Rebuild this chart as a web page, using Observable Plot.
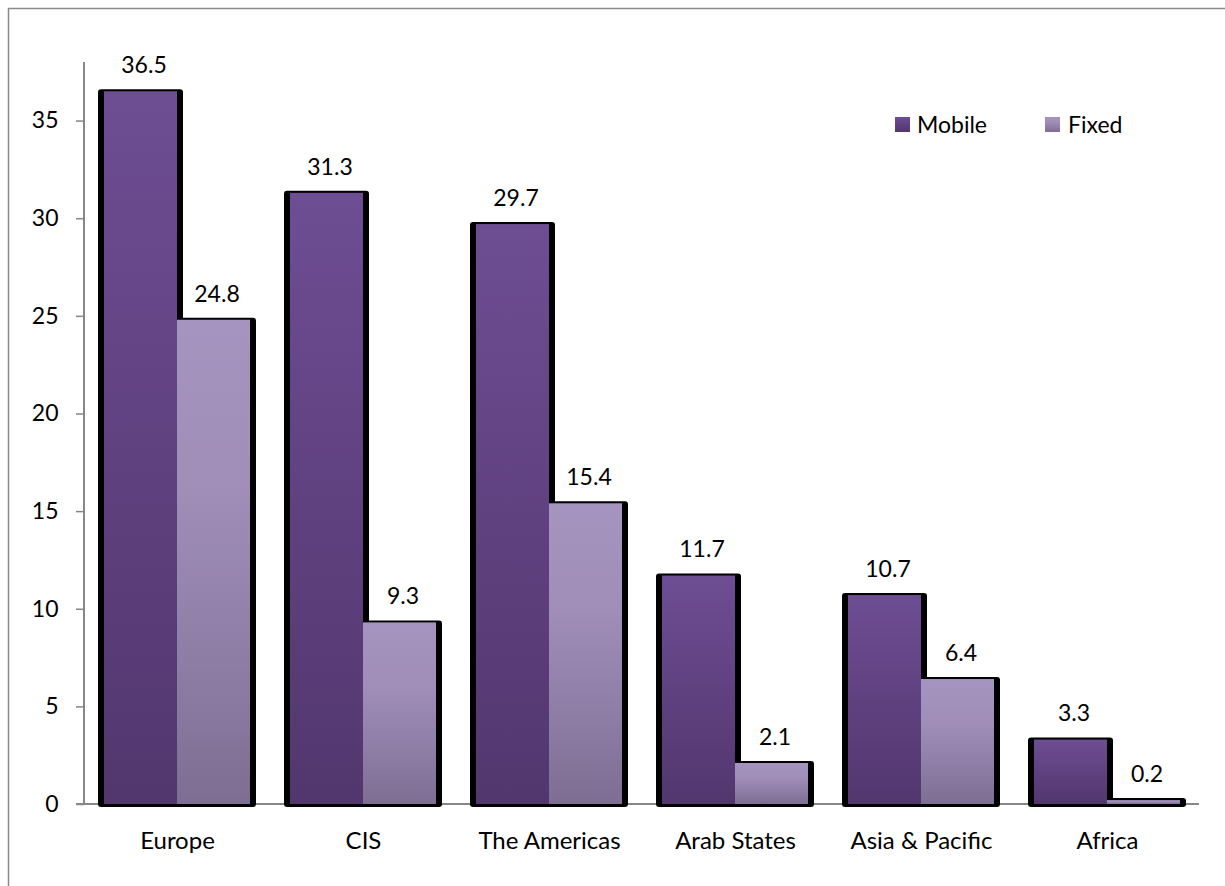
<!DOCTYPE html>
<html>
<head>
<meta charset="utf-8">
<script src="https://cdn.jsdelivr.net/npm/d3@7"></script>
<script src="https://cdn.jsdelivr.net/npm/@observablehq/plot@0.6"></script>
<style>
  html, body { margin: 0; padding: 0; background: #fff; }
  #chart { position: relative; width: 1225px; height: 886px; }
</style>
</head>
<body>
<div id="chart"></div>
<script>
const regions = ["Europe", "CIS", "The Americas", "Arab States", "Asia & Pacific", "Africa"];
const series = ["Mobile", "Fixed"];
const mobile = [36.5, 31.3, 29.7, 11.7, 10.7, 3.3];
const fixed = [24.8, 9.3, 15.4, 2.1, 6.4, 0.2];
const yTicks = [0, 5, 10, 15, 20, 25, 30, 35];

const data = regions.flatMap((r, i) => [
  {region: r, series: "Mobile", value: mobile[i]},
  {region: r, series: "Fixed", value: fixed[i]}
]);

const FONT = "Lato, 'Open Sans', sans-serif";

const plot = Plot.plot({
  width: 1225,
  height: 886,
  marginLeft: 84,
  marginRight: 25,
  marginTop: 62,
  marginBottom: 82,
  style: {fontFamily: FONT, fontSize: "23px", background: "white", color: "black"},
  fx: {domain: regions, padding: 0, label: null},
  x: {domain: series, paddingInner: 0, paddingOuter: 0.2568, axis: null},
  y: {domain: [0, 38], label: null},
  marks: [
    Plot.axisY({ticks: yTicks, tickSize: 8, tickPadding: 18, stroke: "#868686", strokeWidth: 1.5, fill: "black", fontSize: 23, label: null}),
    Plot.axisFx({anchor: "bottom", tickSize: 0, tickPadding: 27, fill: "black", fontSize: 24, label: null}),
    Plot.barY(data, {fx: "region", x: "series", y: "value", fill: "black",
      insetLeft: -6, insetRight: -6, insetTop: -2, insetBottom: -3, rx: 3}),
    Plot.barY(data.filter(d => d.series === "Mobile"), {fx: "region", x: "series", y: "value", fill: "url(#gradMobile)"}),
    Plot.barY(data.filter(d => d.series === "Fixed"), {fx: "region", x: "series", y: "value", fill: "url(#gradFixed)"}),
    Plot.text(data, {fx: "region", x: "series", y: "value", text: d => d.value.toFixed(1),
      dy: -26, dx: 3, fill: "black", fontSize: 23, fontFamily: FONT})
  ]
});

const svg = d3.select(plot);
const defs = svg.insert("defs", ":first-child");
const gm = defs.append("linearGradient").attr("id", "gradMobile").attr("x1", 0).attr("y1", 0).attr("x2", 0).attr("y2", 1);
gm.append("stop").attr("offset", "0%").attr("stop-color", "#6e4e93");
gm.append("stop").attr("offset", "45%").attr("stop-color", "#614282");
gm.append("stop").attr("offset", "100%").attr("stop-color", "#52376e");
const gf = defs.append("linearGradient").attr("id", "gradFixed").attr("x1", 0).attr("y1", 0).attr("x2", 0).attr("y2", 1);
gf.append("stop").attr("offset", "0%").attr("stop-color", "#a694c0");
gf.append("stop").attr("offset", "35%").attr("stop-color", "#a08eb9");
gf.append("stop").attr("offset", "100%").attr("stop-color", "#7e6e93");

// axis lines
svg.append("line").attr("x1", 84).attr("x2", 84).attr("y1", 62).attr("y2", 805)
  .attr("stroke", "#878787").attr("stroke-width", 2);
svg.append("line").attr("x1", 76).attr("x2", 1199).attr("y1", 804).attr("y2", 804)
  .attr("stroke", "#878787").attr("stroke-width", 2);

// bring bars and labels above the axis lines
svg.selectAll('g[aria-label="bar"]').raise();
svg.selectAll('g[aria-label="text"]').raise();

// outer frame (left & top edges visible)
svg.append("line").attr("x1", 8.5).attr("x2", 8.5).attr("y1", 8).attr("y2", 886)
  .attr("stroke", "#8a8a8a").attr("stroke-width", 1.5);
svg.append("line").attr("x1", 8).attr("x2", 1225).attr("y1", 8.5).attr("y2", 8.5)
  .attr("stroke", "#8a8a8a").attr("stroke-width", 1.5);

// legend
const legend = svg.append("g").attr("font-family", FONT).attr("font-size", 23).attr("text-anchor", "start");
const items = [
  {label: series[0], fill: "url(#gradMobile)", x: 895, tx: 917},
  {label: series[1], fill: "url(#gradFixed)", x: 1045, tx: 1068}
];
for (const it of items) {
  legend.append("rect").attr("x", it.x).attr("y", 117).attr("width", 15).attr("height", 15).attr("fill", it.fill);
  legend.append("text").attr("x", it.tx).attr("y", 125).attr("dy", "0.35em").attr("fill", "black").text(it.label);
}

document.getElementById("chart").appendChild(plot);
</script>
</body>
</html>
